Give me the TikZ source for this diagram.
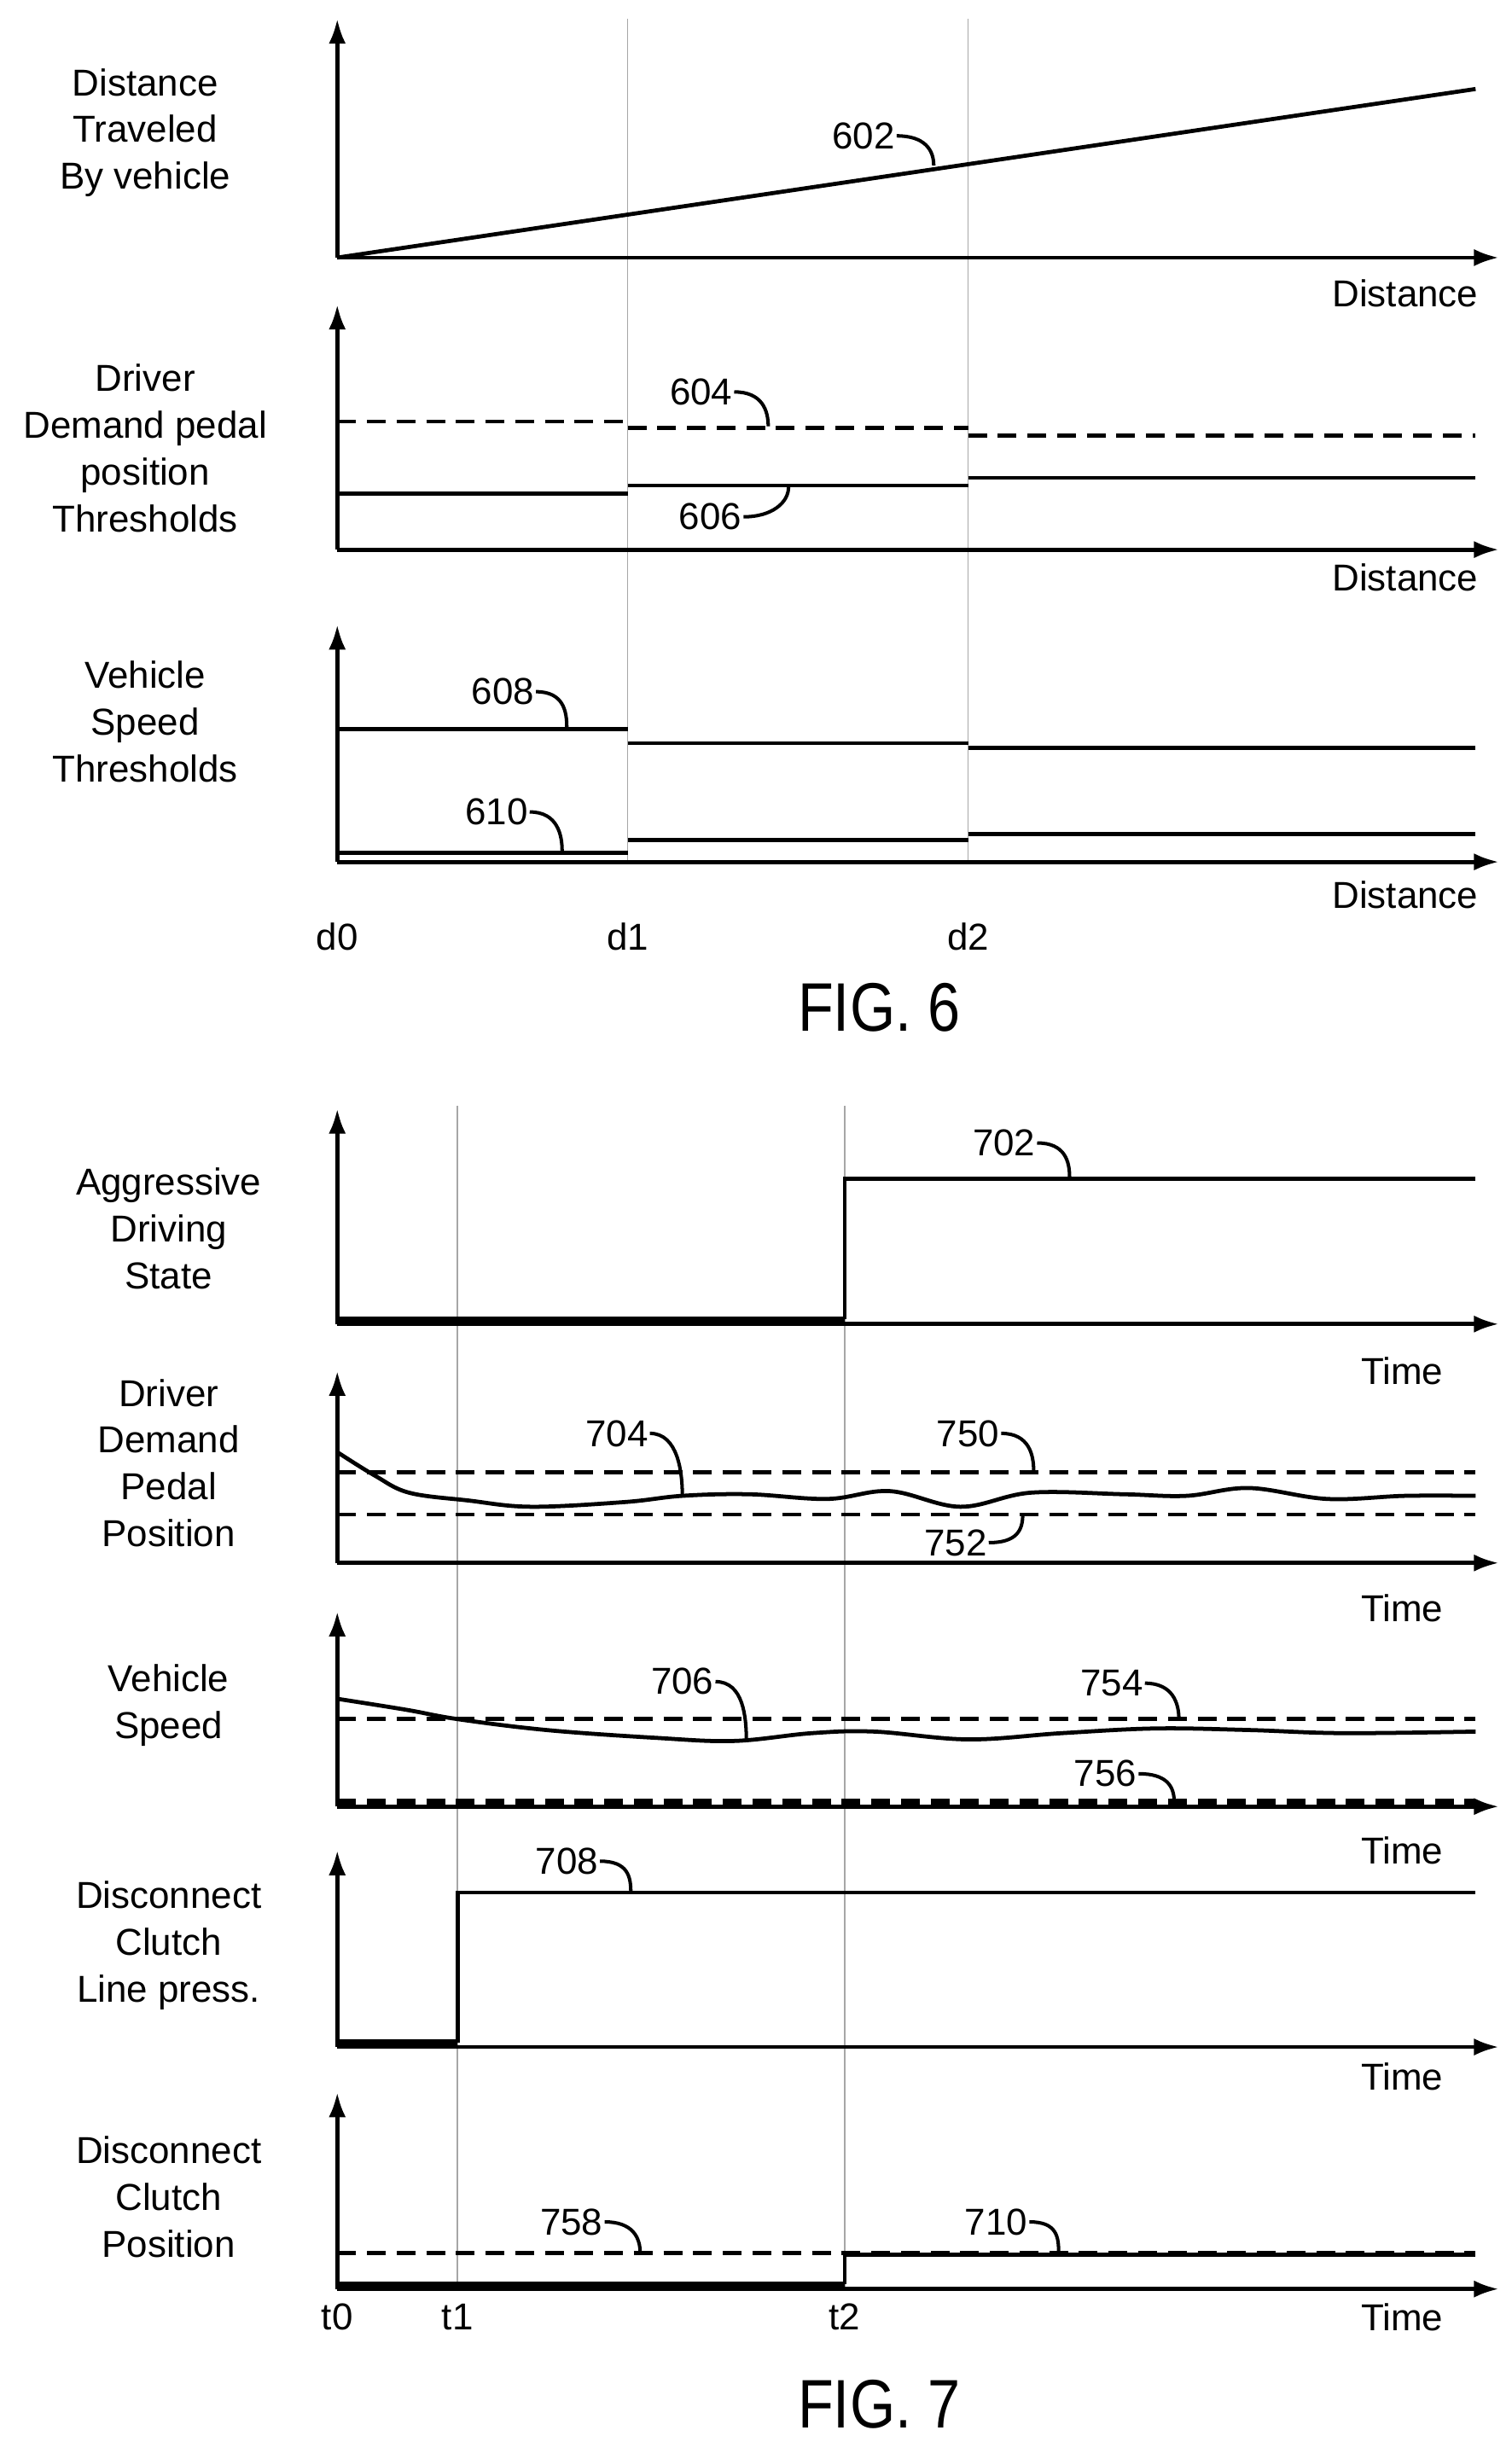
\documentclass[tikz,border=0pt]{standalone}
\usepackage{fontspec}
\setmainfont{Liberation Sans}
\begin{document}
\begin{tikzpicture}[x=1pt,y=-1pt,
  ax/.style={line width=2.6pt,-{Latex[length=16pt,width=11pt]}},
  sig/.style={line width=2.6pt},
  thk/.style={line width=4pt},
  dsh/.style={line width=2.6pt,dash pattern=on 12pt off 7pt},
  grid/.style={gray!70,line width=0.8pt},
  lbl/.style={font=\fontsize{24}{30}\selectfont,align=center},
  num/.style={font=\fontsize{24}{28}\selectfont,inner sep=1pt},
  ld/.style={line width=2.2pt}]
\usetikzlibrary{arrows.meta}
\useasboundingbox (0,0) rectangle (968,1564);
% ---------- FIG 6 ----------
\draw[grid] (402,12) -- (402,552);
\draw[grid] (620,12) -- (620,552);
% panel 1
\draw[ax] (216,165) -- (216,12);
\draw[ax] (216,165) -- (960,165);
\draw[sig] (216,165) -- (945,57);
\node[lbl] (l1) at (93,85) {Distance\\Traveled\\By vehicle};
\node[lbl] (x1) at (900,188) {Distance};
\node[num] (n602) at (553,87) {602};
\coordinate (c602) at (598,106);
\draw[ld] (n602.east) .. controls +(18,0) and +(0,-10) .. (c602);
% panel 2
\draw[ax] (216,352) -- (216,195);
\draw[ax] (216,352) -- (960,352);
\draw[dsh] (216,270) -- (402,270);
\draw[dsh] (402,274) -- (620,274);
\draw[dsh] (620,279) -- (945,279);
\draw[sig] (216,316) -- (402,316);
\draw[sig] (402,311) -- (620,311);
\draw[sig] (620,306) -- (945,306);
\node[lbl] (l2) at (93,287) {Driver\\Demand pedal\\position\\Thresholds};
\node[lbl] (x2) at (900,370) {Distance};
\node[num] (n604) at (449,251) {604};
\coordinate (c604) at (492,273);
\draw[ld] (n604.east) .. controls +(18,0) and +(0,-10) .. (c604);
\node[num] (n606) at (455,331) {606};
\coordinate (c606) at (505,312);
\draw[ld] (n606.east) .. controls +(18,0) and +(0,10) .. (c606);
% panel 3
\draw[ax] (216,552) -- (216,400);
\draw[ax] (216,552) -- (960,552);
\draw[sig] (216,467) -- (402,467);
\draw[sig] (402,476) -- (620,476);
\draw[sig] (620,479) -- (945,479);
\draw[sig] (216,546) -- (402,546);
\draw[sig] (402,538) -- (620,538);
\draw[sig] (620,534) -- (945,534);
\node[lbl] (l3) at (93,462) {Vehicle\\Speed\\Thresholds};
\node[lbl] (x3) at (900,573) {Distance};
\node[num] (n608) at (322,443) {608};
\coordinate (c608) at (363,466);
\draw[ld] (n608.east) .. controls +(18,0) and +(0,-10) .. (c608);
\node[num] (n610) at (318,520) {610};
\coordinate (c610) at (360,545);
\draw[ld] (n610.east) .. controls +(18,0) and +(0,-10) .. (c610);
\node[lbl] (d0) at (216,600) {d0};
\node[lbl] (d1) at (402,600) {d1};
\node[lbl] (d2) at (620,600) {d2};
\node[font=\fontsize{44}{50}\selectfont,xscale=0.85] (f6) at (563,645) {FIG. 6};
% ---------- FIG 7 ----------
\draw[grid] (293,708) -- (293,1466);
\draw[grid] (541,708) -- (541,1466);
% panel 1
\draw[ax] (216,848) -- (216,710);
\draw[ax] (216,848) -- (960,848);
\draw[thk] (216,845) -- (541,845);
\draw[sig] (541,845) -- (541,755) -- (945,755);
\node[lbl] (m1) at (108,787) {Aggressive\\Driving\\State};
\node[lbl] (y1) at (898,878) {Time};
\node[num] (n702) at (643,732) {702};
\coordinate (c702) at (685,754);
\draw[ld] (n702.east) .. controls +(18,0) and +(0,-10) .. (c702);
% panel 2
\draw[ax] (216,1001) -- (216,878);
\draw[ax] (216,1001) -- (960,1001);
\draw[dsh] (216,943) -- (945,943);
\draw[dsh] (216,970) -- (945,970);
\draw[sig] plot[smooth,tension=0.6] coordinates {(216,930) (240,945) (262,956) (300,961) (340,965) (400,962) (437,958) (480,957) (530,960) (570,955) (615,965) (660,956) (720,957) (760,958) (800,953) (850,960) (900,958) (945,958)};
\node[lbl] (m2) at (108,937) {Driver\\Demand\\Pedal\\Position};
\node[lbl] (y2) at (898,1030) {Time};
\node[num] (n704) at (395,918) {704};
\coordinate (c704) at (437,958);
\draw[ld] (n704.east) .. controls +(18,0) and +(0,-15) .. (c704);
\node[num] (n750) at (620,918) {750};
\coordinate (c750) at (662,942);
\draw[ld] (n750.east) .. controls +(18,0) and +(0,-10) .. (c750);
\node[num] (n752) at (612,988) {752};
\coordinate (c752) at (655,970);
\draw[ld] (n752.east) .. controls +(18,0) and +(0,10) .. (c752);
% panel 3
\draw[ax] (216,1157) -- (216,1032);
\draw[ax] (216,1157) -- (960,1157);
\draw[dsh] (216,1101) -- (945,1101);
\draw[dsh,line width=4pt] (216,1154) -- (945,1154);
\draw[sig] plot[smooth,tension=0.6] coordinates {(216,1088) (260,1095) (293,1101) (350,1108) (420,1113) (470,1115) (520,1110) (560,1109) (620,1114) (680,1110) (740,1107) (800,1108) (860,1110) (945,1109)};
\node[lbl] (m3) at (108,1092) {Vehicle\\Speed};
\node[lbl] (y3) at (898,1185) {Time};
\node[num] (n706) at (437,1077) {706};
\coordinate (c706) at (478,1115);
\draw[ld] (n706.east) .. controls +(18,0) and +(0,-15) .. (c706);
\node[num] (n754) at (712,1078) {754};
\coordinate (c754) at (755,1101);
\draw[ld] (n754.east) .. controls +(18,0) and +(0,-10) .. (c754);
\node[num] (n756) at (708,1136) {756};
\coordinate (c756) at (752,1154);
\draw[ld] (n756.east) .. controls +(18,0) and +(0,-10) .. (c756);
% panel 4
\draw[ax] (216,1311) -- (216,1185);
\draw[ax] (216,1311) -- (960,1311);
\draw[thk] (216,1308) -- (293,1308);
\draw[sig] (293,1308) -- (293,1212) -- (945,1212);
\node[lbl] (m4) at (108,1246) {Disconnect\\Clutch\\Line press.};
\node[lbl] (y4) at (898,1330) {Time};
\node[num] (n708) at (363,1192) {708};
\coordinate (c708) at (404,1212);
\draw[ld] (n708.east) .. controls +(18,0) and +(0,-10) .. (c708);
% panel 5
\draw[ax] (216,1466) -- (216,1340);
\draw[ax] (216,1466) -- (960,1466);
\draw[dsh] (216,1443) -- (945,1443);
\draw[thk] (216,1463) -- (541,1463);
\draw[sig] (541,1463) -- (541,1444) -- (945,1444);
\node[lbl] (m5) at (108,1407) {Disconnect\\Clutch\\Position};
\node[num] (n758) at (366,1423) {758};
\coordinate (c758) at (410,1443);
\draw[ld] (n758.east) .. controls +(18,0) and +(0,-10) .. (c758);
\node[num] (n710) at (638,1423) {710};
\coordinate (c710) at (678,1443);
\draw[ld] (n710.east) .. controls +(18,0) and +(0,-10) .. (c710);
\node[lbl] (t0) at (216,1484) {t0};
\node[lbl] (t1) at (293,1484) {t1};
\node[lbl] (t2) at (541,1484) {t2};
\node[lbl] (y5) at (898,1484) {Time};
\node[font=\fontsize{44}{50}\selectfont,xscale=0.85] (f7) at (563,1540) {FIG. 7};
\end{tikzpicture}
\end{document}
